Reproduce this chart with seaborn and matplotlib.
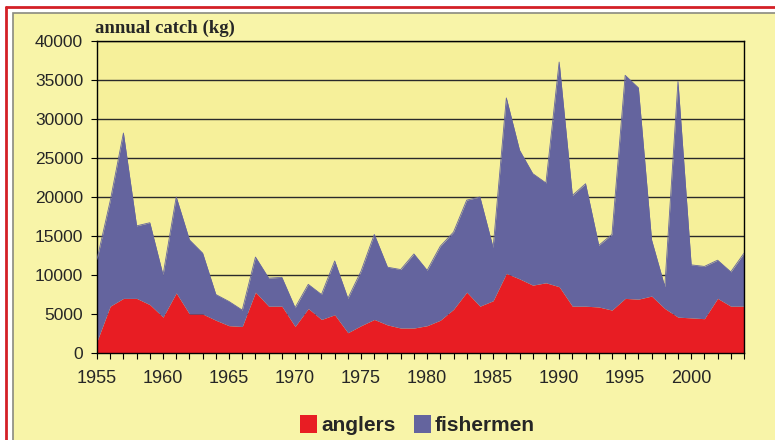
import numpy as np
import pandas as pd
import seaborn as sns
import matplotlib.pyplot as plt
from matplotlib.lines import Line2D
from matplotlib.patches import Rectangle, Patch
from matplotlib.ticker import MultipleLocator

# data (kg per year)
years = list(range(1955, 2005))
anglers = [1500, 6000, 7000, 7000, 6200, 4600, 7700, 5000, 5000, 4200,
           3500, 3400, 7800, 6000, 6000, 3400, 5700, 4300, 4900, 2600,
           3500, 4300, 3600, 3200, 3200, 3500, 4200, 5600, 7800, 6000,
           6700, 10200, 9500, 8700, 9000, 8500, 6000, 6000, 5900, 5500,
           7000, 6900, 7300, 5700, 4600, 4500, 4400, 7000, 6000, 6000]
fishermen = [10500, 13500, 21200, 9300, 10500, 5400, 12300, 9500, 7800, 3300,
             3100, 2100, 4500, 3600, 3700, 2400, 3100, 3200, 6900, 4400,
             7000, 10900, 7400, 7500, 9500, 7100, 9500, 9900, 11800, 14000,
             6800, 22500, 16500, 14300, 12800, 28800, 14200, 15700, 7900, 9700,
             28600, 27100, 7200, 2800, 30200, 6800, 6700, 4900, 4400, 6800]
series_names = ["anglers", "fishermen"]
colors = ["#E81D23", "#64649E"]
xtick_years = list(range(1955, 2001, 5))
ytick_values = list(range(0, 40001, 5000))

df = pd.DataFrame({"year": years, "anglers": anglers, "fishermen": fishermen})

sns.set_style("white")
plt.rcParams["font.family"] = ["Liberation Sans", "DejaVu Sans"]

fig = plt.figure(figsize=(7.75, 4.4), dpi=100)
fig.patch.set_facecolor("white")

# outer frame: light yellow panel with grey edge, red line outside it
fig.patches.append(Rectangle((13 / 775, -0.1), 1.2, 1 - 13 / 440 + 0.1,
                             transform=fig.transFigure, facecolor="#F8F4A8",
                             edgecolor="#8A8A80", linewidth=1.2, zorder=-10))
fig.lines.append(Line2D([6 / 775, 6 / 775], [0, 1 - 7 / 440], transform=fig.transFigure,
                        color="#D42027", linewidth=2, zorder=-10))
fig.lines.append(Line2D([6 / 775, 1], [1 - 7 / 440, 1 - 7 / 440], transform=fig.transFigure,
                        color="#D42027", linewidth=2, zorder=-10))

ax = fig.add_axes([97 / 775, 1 - 353 / 440, (744 - 97) / 775, (353 - 41) / 440])
ax.set_zorder(1)
ax.set_facecolor("#F6F09A")

ax.stackplot(df["year"], df["anglers"], df["fishermen"], colors=colors,
             linewidth=0, zorder=2)
sns.lineplot(x=df["year"], y=df["anglers"] + df["fishermen"], ax=ax,
             color=colors[1], linewidth=0.6, zorder=3)

ax.set_xlim(1955, 2004)
ax.set_ylim(0, 40000)
ax.set_xticks(xtick_years)
ax.set_xticklabels([str(y) for y in xtick_years],
                   fontsize=13, family=["Liberation Sans Narrow", "Liberation Sans"])
ax.xaxis.set_minor_locator(MultipleLocator(1))
ax.set_yticks(ytick_values)
ax.set_yticklabels([str(v) for v in ytick_values], fontsize=12.5)
ax.tick_params(axis="both", which="both", direction="out", color="black",
               length=4, width=0.8, bottom=True, left=True)
ax.tick_params(axis="x", which="major", pad=8)
ax.tick_params(axis="y", which="major", pad=6)
ax.set_xlabel("")
ax.set_ylabel("")

ax.yaxis.grid(True, color="#2A2A2A", linewidth=1.0, zorder=1)
ax.set_axisbelow(True)
for s in ax.spines.values():
    s.set_visible(True)
    s.set_color("black")
    s.set_linewidth(1.0)

fig.text(95 / 775, 1 - 33 / 440, "annual catch (kg)", fontsize=13.5, fontweight="bold",
         family=["Liberation Serif", "DejaVu Serif"], ha="left", va="baseline")

handles = [Patch(facecolor=c, edgecolor="none") for c in colors]
fig.legend(handles, series_names, loc="center", bbox_to_anchor=(0.539, 1 - 425 / 440),
           ncol=2, frameon=False, prop={"weight": "bold", "size": 15},
           handlelength=0.8, handleheight=1.0, handletextpad=0.2, columnspacing=0.9)

fig.savefig("out.png", dpi=100, facecolor=fig.get_facecolor())
